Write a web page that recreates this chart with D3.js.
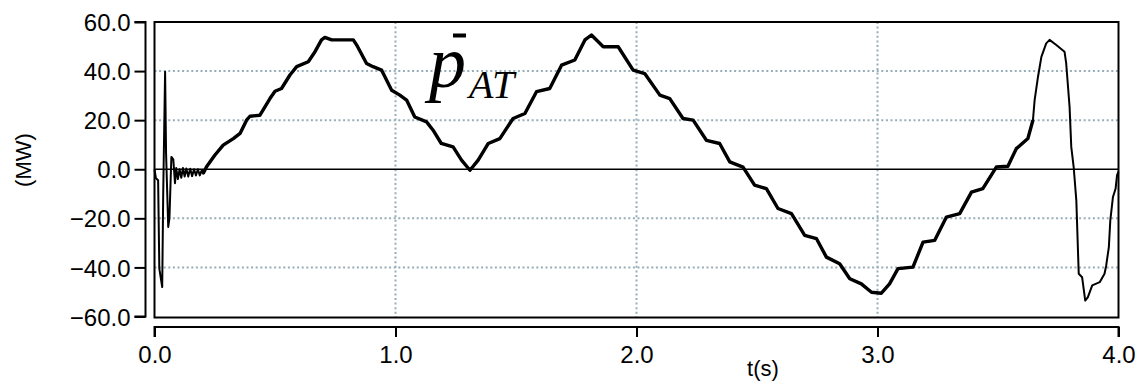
<!DOCTYPE html>
<html>
<head>
<meta charset="utf-8">
<script src="https://cdn.jsdelivr.net/npm/d3@7"></script>
<style>
  body { margin: 0; background: #fff; }
  svg { display: block; }
</style>
</head>
<body>
<div id="chart"></div>
<script>
// values (time in s, power in MW)
const tVals = [0.000, 0.006, 0.015, 0.020, 0.032, 0.036, 0.044, 0.048, 0.057, 0.062, 0.070, 0.078, 0.085, 0.090,
  0.097, 0.104, 0.111, 0.118, 0.125, 0.132, 0.140, 0.148, 0.156, 0.164, 0.172, 0.180, 0.188, 0.196, 0.203, 0.216,
  0.250, 0.285, 0.327, 0.355, 0.382, 0.396, 0.437, 0.479, 0.500, 0.527, 0.562, 0.590, 0.638, 0.666, 0.693, 0.707,
  0.735, 0.825, 0.839, 0.880, 0.907, 0.942, 0.984, 1.018, 1.046, 1.080, 1.129, 1.156, 1.190, 1.239, 1.274, 1.309,
  1.343, 1.385, 1.433, 1.488, 1.537, 1.585, 1.640, 1.689, 1.744, 1.786, 1.813, 1.862, 1.924, 1.986, 2.034, 2.097,
  2.138, 2.193, 2.235, 2.290, 2.345, 2.387, 2.442, 2.490, 2.539, 2.587, 2.643, 2.698, 2.747, 2.788, 2.843, 2.885,
  2.933, 2.975, 3.016, 3.050, 3.085, 3.147, 3.189, 3.237, 3.286, 3.341, 3.390, 3.437, 3.493, 3.541, 3.576, 3.624,
  3.645, 3.652, 3.666, 3.680, 3.700, 3.714, 3.742, 3.776, 3.783, 3.797, 3.804, 3.814, 3.825, 3.835, 3.849, 3.862,
  3.873, 3.891, 3.922, 3.942, 3.949, 3.960, 3.966, 3.977, 3.988, 3.994, 4.000];
const pVals = [0, -3.7, -4.5, -40.5, -48, -11, 39.7, 6.5, -23.5, -20, 5, 4, -5.7, 0.5,
  -4, 0, -3.5, 0.5, -3, 0.3, -3, 0.2, -2.8, 0, -2.5, 0, -2.5, -0.5, -1.5, 1,
  5.7, 9.8, 12.5, 14.6, 20, 21.6, 22, 28.8, 31.8, 32.9, 38.4, 41.8, 43.8, 47.9, 52.7, 53.7,
  52.7, 52.7, 50.6, 43.1, 41.8, 40.4, 32.2, 30.2, 28.2, 21.3, 19.3, 15.9, 10.5, 9.1, 3.7, -0.4,
  3.7, 10.5, 12.5, 20.7, 22.7, 31.6, 32.9, 42.4, 44.5, 52.7, 54.7, 49.9, 49.9, 40.4, 39, 30.2,
  28.8, 20.7, 20, 11.8, 10.5, 3, 0.9, -6.5, -7.9, -16, -18.1, -26.9, -28.3, -35.8, -38.5, -44.6,
  -46.7, -50.1, -50.5, -46.7, -40.5, -39.9, -29.7, -29, -19.5, -18.1, -9.3, -7.9, 0.9, 1.2, 8.4, 12.5,
  20, 28.2, 37.7, 45.8, 51.3, 52.7, 50.6, 47.9, 43.1, 25.4, 9.1, 0.9, -12.7, -42.6, -44, -53.5,
  -52.1, -47.3, -46, -42.6, -39.2, -31.7, -20.8, -11.3, -7.9, -2.4, -1];

const xTicks = [0, 1, 2, 3, 4];
const yTicks = [-60, -40, -20, 0, 20, 40, 60];
const xGrid = [1, 2, 3];
const yGrid = [-40, -20, 20, 40];

const W = 1137, H = 385;
const plot = { left: 154.5, right: 1118.5, top: 22, bottom: 317.5 };

const svg = d3.select("#chart").append("svg")
  .attr("width", W)
  .attr("height", H);

const x = d3.scaleLinear().domain([0, 4]).range([plot.left, plot.right]);
const y = d3.scaleLinear().domain([-60, 60]).range([plot.bottom - 1, plot.top]);

// dotted grid
const gridColor = "#97adb9";
svg.append("g").selectAll("line.h")
  .data(yGrid).join("line")
  .attr("x1", plot.left).attr("x2", plot.right)
  .attr("y1", d => y(d)).attr("y2", d => y(d))
  .attr("stroke", gridColor).attr("stroke-width", 2)
  .attr("stroke-dasharray", "2,2.6");
svg.append("g").selectAll("line.v")
  .data(xGrid).join("line")
  .attr("y1", plot.top).attr("y2", plot.bottom)
  .attr("x1", d => x(d)).attr("x2", d => x(d))
  .attr("stroke", gridColor).attr("stroke-width", 2)
  .attr("stroke-dasharray", "2,2.6");

// zero line
svg.append("line")
  .attr("x1", plot.left).attr("x2", plot.right)
  .attr("y1", y(0)).attr("y2", y(0))
  .attr("stroke", "#000").attr("stroke-width", 1.6);

// trace
const pts = tVals.map((t, i) => [t, pVals[i]]);
const line = d3.line().x(d => x(d[0])).y(d => y(d[1]));
svg.append("path")
  .attr("d", line(pts))
  .attr("fill", "none").attr("stroke", "#000")
  .attr("stroke-width", 2).attr("stroke-linejoin", "round");
// the rippled (slow) part looks heavier in the original
svg.append("path")
  .attr("d", line(pts.filter(d => d[0] >= 0.196 && d[0] <= 3.645)))
  .attr("fill", "none").attr("stroke", "#000")
  .attr("stroke-width", 3.4).attr("stroke-linejoin", "round");

// frame
svg.append("rect")
  .attr("x", plot.left).attr("y", plot.top)
  .attr("width", plot.right - plot.left).attr("height", plot.bottom - plot.top)
  .attr("fill", "none").attr("stroke", "#000").attr("stroke-width", 2);

// detached axes
const yAxis = svg.append("g")
  .attr("transform", "translate(145.5,0)")
  .call(d3.axisLeft(y).tickValues(yTicks).tickSize(11).tickPadding(4).tickFormat(d3.format(".1f")));
const xAxis = svg.append("g")
  .attr("transform", "translate(0,327)")
  .call(d3.axisBottom(x).tickValues(xTicks).tickSize(10).tickPadding(9).tickFormat(d3.format(".1f")));

[yAxis, xAxis].forEach(g => {
  g.select(".domain").attr("stroke-width", 2);
  g.selectAll(".tick line").attr("stroke-width", 2);
  g.selectAll("text")
    .attr("font-family", "Liberation Sans, Arial, sans-serif")
    .attr("font-size", 24)
    .attr("fill", "#000");
});
yAxis.selectAll("text").attr("dy", "0.36em");
xAxis.select(".domain").attr("d", `M${plot.left},10V0H${plot.right}V10`);
yAxis.select(".domain").attr("d", `M-11,${y(60)}H0V${y(-60)}H-11`);

// axis titles
svg.append("text")
  .attr("transform", "translate(31,160) rotate(-90)")
  .attr("text-anchor", "middle")
  .attr("font-family", "Liberation Sans, Arial, sans-serif")
  .attr("font-size", 22)
  .text("(MW)");
svg.append("text")
  .attr("x", 763).attr("y", 376)
  .attr("text-anchor", "middle")
  .attr("font-family", "Liberation Sans, Arial, sans-serif")
  .attr("font-size", 22)
  .text("t(s)");

// annotation p̄_AT
const ann = svg.append("text")
  .attr("x", 429).attr("y", 87)
  .attr("font-family", "Liberation Serif, Times New Roman, serif")
  .attr("font-style", "italic");
ann.append("tspan").attr("font-size", 74).text("p");
ann.append("tspan").attr("font-size", 40).attr("dx", 3).attr("dy", 11).text("AT");
svg.append("line")
  .attr("x1", 453).attr("x2", 466)
  .attr("y1", 35.5).attr("y2", 35.5)
  .attr("stroke", "#000").attr("stroke-width", 4);
</script>
</body>
</html>
